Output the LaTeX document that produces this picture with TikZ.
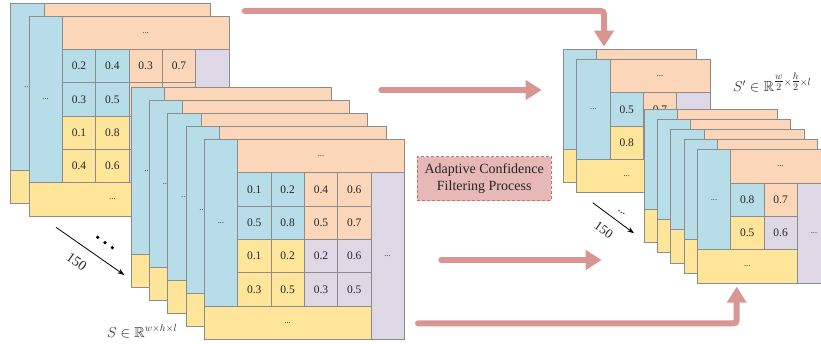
\documentclass[tikz,border=0pt]{standalone}
\usepackage{fontspec}
\setmainfont{Liberation Serif}
\usepackage{amssymb}
\usetikzlibrary{arrows.meta}
\definecolor{cblue}{HTML}{B7DDE8}
\definecolor{corange}{HTML}{FBD6B9}
\definecolor{cyellow}{HTML}{FFE599}
\definecolor{cpurple}{HTML}{DED8E6}
\definecolor{cedge}{HTML}{8C8C8C}
\definecolor{carrow}{HTML}{D99591}
\definecolor{cboxfill}{HTML}{E6B8B7}
\definecolor{cboxedge}{HTML}{D56A6A}
\definecolor{ctext}{HTML}{262626}
\def\uu{33.333}
\tikzset{
  cellp/.style={draw=cedge,line width=0.9pt},
  dotlbl/.style={font=\fontsize{8.5}{9}\selectfont,inner sep=0pt,text=ctext},
  val/.style={font=\fontsize{11.5}{12}\selectfont,inner sep=0pt,text=ctext},
  flow/.style={draw=carrow,line width=6pt,line cap=round,rounded corners=3pt,
    -{Triangle[length=16pt,width=19pt,fill=carrow]}},
  countarrow/.style={draw=black,line width=0.8pt,-{Stealth[length=7pt,width=5pt]}},
}
% large frame: 4x4 cells
\newcommand\LFrame[2]{%
\begin{scope}[shift={(#1,#2)}]
\draw[cellp,fill=cblue] (0,0) rectangle (\uu,5*\uu);
\draw[cellp,fill=corange] (\uu,0) rectangle (6*\uu,\uu);
\draw[cellp,fill=cpurple] (5*\uu,\uu) rectangle (6*\uu,6*\uu);
\draw[cellp,fill=cyellow] (0,5*\uu) rectangle (5*\uu,6*\uu);
\foreach \bx/\by/\col in {0/0/cblue,2/0/corange,0/2/cyellow,2/2/cpurple}
  \foreach \c in {0,1}
    \foreach \r in {0,1}
      \draw[cellp,fill=\col] ({(1+\bx+\c)*\uu},{(1+\by+\r)*\uu}) rectangle ++(\uu,\uu);
\end{scope}}
% small frame: 2x2 cells
\newcommand\SFrame[2]{%
\begin{scope}[shift={(#1,#2)}]
\draw[cellp,fill=cblue] (0,0) rectangle (\uu,3*\uu);
\draw[cellp,fill=corange] (\uu,0) rectangle (4*\uu,\uu);
\draw[cellp,fill=cpurple] (3*\uu,\uu) rectangle (4*\uu,4*\uu);
\draw[cellp,fill=cyellow] (0,3*\uu) rectangle (3*\uu,4*\uu);
\foreach \col/\c/\r in {cblue/0/0,corange/1/0,cyellow/0/1,cpurple/1/1}
  \draw[cellp,fill=\col] ({(1+\c)*\uu},{(1+\r)*\uu}) rectangle ++(\uu,\uu);
\end{scope}}
% "..." labels: list of key/cx/cy in cell units
\newcommand\FDots[4]{%
\begin{scope}[shift={(#1,#2)}]
\foreach \k/\cx/\cy in {#4}
  \node[dotlbl] (#3-\k) at ({\cx*\uu},{\cy*\uu}) {...};
\end{scope}}
\newcommand\FVals[4]{%
\begin{scope}[shift={(#1,#2)}]
\foreach \r/\c/\v in {#4}
  \node[val] (#3-\r\c) at ({(1.5+\c)*\uu},{(1.5+\r)*\uu}) {\v};
\end{scope}}
\begin{document}
\begin{tikzpicture}[x=1pt,y=-1pt]
\useasboundingbox (0,0) rectangle (821,344);
\clip (0,0) rectangle (821,344);
% ---- left stack
\LFrame{10.7}{3.3}
\FDots{10.7}{3.3}{fa}{b/0.5/2.5}
\LFrame{29}{16}
\FDots{29}{16}{fb}{b/0.5/2.5,o/3.5/0.5,y/2.5/5.5}
\FVals{29}{16}{fb}{0/0/0.2,0/1/0.4,0/2/0.3,0/3/0.7,1/0/0.3,1/1/0.5,2/0/0.1,2/1/0.8,3/0/0.4,3/1/0.6}
\foreach \i in {0,...,4}{
  \LFrame{131+18.33*\i}{87.3+13*\i}
  \FDots{131+18.33*\i}{87.3+13*\i}{fc\i}{b/0.5/2.5}
}
\FDots{204.3}{139.3}{fd}{o/3.5/0.5,p/5.5/3.5,y/2.5/5.5}
\FVals{204.3}{139.3}{fd}{0/0/0.1,0/1/0.2,0/2/0.4,0/3/0.6,1/0/0.5,1/1/0.8,1/2/0.5,1/3/0.7,2/0/0.1,2/1/0.2,2/2/0.2,2/3/0.6,3/0/0.3,3/1/0.5,3/2/0.3,3/3/0.5}
% ---- right stack
\SFrame{563.3}{49.3}
\SFrame{576.7}{59.3}
\FDots{576.7}{59.3}{gb}{b/0.5/1.5,o/2.5/0.5,y/1.5/3.5}
\FVals{576.7}{59.3}{gb}{0/0/0.5,0/1/0.7,1/0/0.8}
\foreach \i in {0,...,4}{
  \SFrame{644+13.33*\i}{109.5+10.1*\i}
}
\FDots{697.3}{149.9}{gd}{b/0.5/1.5,o/2.5/0.5,p/3.5/2.5,y/1.5/3.5}
\FVals{697.3}{149.9}{gd}{0/0/0.8,0/1/0.7,1/0/0.5,1/1/0.6}
% ---- flow arrows
\coordinate (t0) at (244.7,11);
\coordinate (t1) at (604,11);
\coordinate (t2) at (604,46.7);
\draw[flow] (t0) -- (t1) -- (t2);
\coordinate (m0) at (381.3,90);
\coordinate (m1) at (541.7,90);
\draw[flow] (m0) -- (m1);
\coordinate (n0) at (441.3,260);
\coordinate (n1) at (601.7,260);
\draw[flow] (n0) -- (n1);
\coordinate (b0) at (418,323.3);
\coordinate (b1) at (736.7,323.3);
\coordinate (b2) at (736.7,286.7);
\draw[flow] (b0) -- (b1) -- (b2);
% ---- process box
\node[draw=cboxedge,fill=cboxfill,dashed,dash pattern=on 3pt off 2pt,line width=0.8pt,
  minimum width=133.7pt,minimum height=44pt,align=center,inner sep=0pt,
  font=\fontsize{14}{16.5}\selectfont,text=ctext] (acf) at (484.2,178.7)
  {Adaptive Confidence\\Filtering Process};
% ---- count arrows
\coordinate (la0) at (56,227.3);
\coordinate (la1) at (124.3,275);
\draw[countarrow] (la0) -- (la1);
\node[rotate=-35,font=\fontsize{14}{14}\selectfont,inner sep=0pt,text=ctext] (l150) at (76.7,261.7) {150};
\foreach \p/\q [count=\k] in {97.7/237.3,105/242.7,112.3/247.7}
  \fill[black] (\p,\q) circle (1.8pt) coordinate (ld\k);
\coordinate (ra0) at (592.7,202.7);
\coordinate (ra1) at (634,233.3);
\draw[countarrow] (ra0) -- (ra1);
\node[rotate=-36,font=\fontsize{13}{13}\selectfont,inner sep=0pt,text=ctext] (r150) at (603.8,229.7) {150};
\node[rotate=-36,font=\fontsize{12}{12}\selectfont,inner sep=0pt,text=ctext] (rdots) at (621.5,212.5) {...};
% ---- labels
\node[anchor=base west,inner sep=0pt,font=\fontsize{14.5}{15}\selectfont,text=ctext] (slab) at (107,337)
  {$S\in\mathbb{R}^{w\times h\times l}$};
\node[anchor=base west,inner sep=0pt,font=\fontsize{14.5}{15}\selectfont,text=ctext] (splab) at (733,91.7)
  {$S'\in\mathbb{R}^{{\textstyle\frac{w}{2}}\times{\textstyle\frac{h}{2}}\times l}$};
\end{tikzpicture}
\end{document}
